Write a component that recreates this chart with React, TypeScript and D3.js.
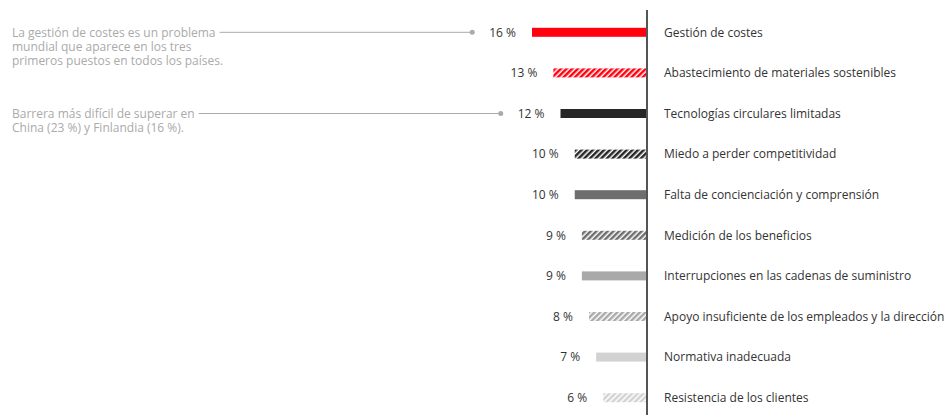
import React, { useEffect, useRef } from "react";
import * as d3 from "d3";

const categories = [
  "Gestión de costes",
  "Abastecimiento de materiales sostenibles",
  "Tecnologías circulares limitadas",
  "Miedo a perder competitividad",
  "Falta de concienciación y comprensión",
  "Medición de los beneficios",
  "Interrupciones en las cadenas de suministro",
  "Apoyo insuficiente de los empleados y la dirección",
  "Normativa inadecuada",
  "Resistencia de los clientes",
];
const values = [16, 13, 12, 10, 10, 9, 9, 8, 7, 6];
const colors = ["#ff000f", "#ff000f", "#262626", "#262626", "#6e6e6e", "#6e6e6e", "#a9a9a9", "#a9a9a9", "#d2d2d2", "#d2d2d2"];
const hatched = [false, true, false, true, false, true, false, true, false, true];

const annotations = [
  { row: 0, lines: ["La gestión de costes es un problema", "mundial que aparece en los tres", "primeros puestos en todos los países."] },
  { row: 2, lines: ["Barrera más difícil de superar en", "China (23 %) y Finlandia (16 %)."] },
];

const W = 952;
const H = 415;
const FONT = "'Open Sans', sans-serif";
const FS = 12;

export default function App() {
  const ref = useRef<SVGSVGElement | null>(null);

  useEffect(() => {
    const svg = d3.select(ref.current);
    svg.selectAll("*").remove();

    const x = d3.scaleLinear().domain([0, 16]).range([646, 532]);
    const y = d3.scaleBand<string>().domain(categories).range([12, 418]).padding(0);
    const barH = 9;
    const cy = (i: number) => (y(categories[i]) as number) + y.bandwidth() / 2;

    const defs = svg.append("defs");
    colors.forEach((c, i) => {
      if (!hatched[i]) return;
      const p = defs
        .append("pattern")
        .attr("id", "hatch" + i)
        .attr("patternUnits", "userSpaceOnUse")
        .attr("width", 4)
        .attr("height", 4)
        .attr("patternTransform", "rotate(45)");
      p.append("rect").attr("width", 4).attr("height", 4).attr("fill", "#fff");
      p.append("rect").attr("width", 2.5).attr("height", 4).attr("fill", c);
    });

    const g = svg.append("g");
    g.selectAll("rect.bar")
      .data(values)
      .join("rect")
      .attr("class", "bar")
      .attr("x", (d) => x(d))
      .attr("width", (d) => x(0) - x(d))
      .attr("y", (_, i) => cy(i) - barH / 2)
      .attr("height", barH)
      .attr("fill", (_, i) => (hatched[i] ? `url(#hatch${i})` : colors[i]));

    const valLabels = g
      .selectAll("text.val")
      .data(values)
      .join("text")
      .attr("class", "val")
      .attr("x", (d) => x(d) - 16)
      .attr("y", (_, i) => cy(i))
      .attr("dy", "0.35em")
      .attr("text-anchor", "end")
      .attr("font-family", FONT)
      .attr("font-size", FS)
      .attr("fill", "#333")
      .text((d) => `${d} %`);

    g.selectAll("text.cat")
      .data(categories)
      .join("text")
      .attr("class", "cat")
      .attr("x", 664)
      .attr("y", (_, i) => cy(i))
      .attr("dy", "0.35em")
      .attr("font-family", FONT)
      .attr("font-size", FS)
      .attr("fill", "#333")
      .text((d) => d);

    g.append("line")
      .attr("x1", x(0) + 1)
      .attr("x2", x(0) + 1)
      .attr("y1", 10)
      .attr("y2", H)
      .attr("stroke", "#555")
      .attr("stroke-width", 2);

    const valNodes = valLabels.nodes() as SVGTextElement[];
    annotations.forEach((a) => {
      const yc = cy(a.row);
      const t = g
        .append("text")
        .attr("font-family", FONT)
        .attr("font-size", FS)
        .attr("fill", "#aaa");
      a.lines.forEach((l, k) => {
        t.append("tspan")
          .attr("x", 12)
          .attr("y", yc + k * 14)
          .attr("dy", "0.35em")
          .text(l);
      });
      const first = t.select("tspan").node() as SVGTextElement;
      const startX = 12 + first.getComputedTextLength() + 4;
      const bb = valNodes[a.row].getBBox();
      const endX = bb.x - 17;
      g.append("line")
        .attr("x1", startX)
        .attr("x2", endX)
        .attr("y1", yc)
        .attr("y2", yc)
        .attr("stroke", "#aaa")
        .attr("stroke-width", 1);
      g.append("circle").attr("cx", endX).attr("cy", yc).attr("r", 2.5).attr("fill", "#aaa");
    });
  }, []);

  return (
    <svg
      ref={ref}
      width={W}
      height={H}
      style={{ position: "absolute", left: 0, top: 0, background: "#fff" }}
    />
  );
}
